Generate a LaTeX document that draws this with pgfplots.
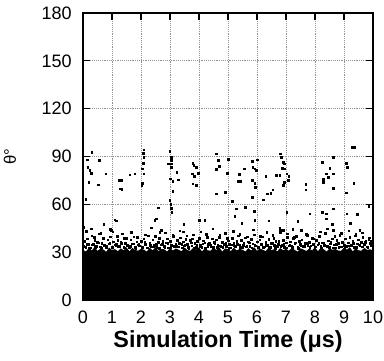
\documentclass[border=0pt]{standalone}
\usepackage{fontspec}
\setmainfont{Liberation Sans}
\usepackage{pgfplots}
\pgfplotsset{compat=1.18}
\begin{document}
\begin{tikzpicture}
\begin{axis}[
 scale only axis, width=217.5pt, height=215.25pt,
 xmin=0,xmax=10,ymin=0,ymax=180,
 xtick={0,1,2,3,4,5,6,7,8,9,10}, ytick={0,30,60,90,120,150,180},
 tick align=inside, major tick length=5.5pt,
 xtick pos=both, ytick pos=both,
 grid=major, grid style={densely dotted, gray!85, line width=0.5pt},
 axis line style={line width=0.8pt}, tick style={line width=0.8pt,black},
 /pgf/number format/assume math mode=true,
 ticklabel style={font=\fontsize{13.5}{14}\selectfont},
 xticklabel style={inner sep=0pt, yshift=-8pt},
 yticklabel style={inner sep=0pt, xshift=-8.25pt},
 xlabel={Simulation Time (μs)},
 xlabel style={font=\fontsize{17.5}{19}\selectfont\bfseries, inner sep=0pt, at={(axis description cs:0.5,-0.166)}, anchor=base},
 ylabel={θ°},
 ylabel style={font=\fontsize{12.5}{13}\selectfont, inner sep=0pt, at={(axis description cs:-0.252,0.5)}, anchor=center},
]
\coordinate (sw) at (rel axis cs:0,0);
\coordinate (ne) at (rel axis cs:1,1);
% solid dense band
\addplot[fill=black, draw=none] coordinates {
(0.0,31.5)(0.1,30.4)(0.2,32.6)(0.3,31.0)(0.4,33.1)(0.5,30.8)(0.6,32.2)(0.7,31.7)(0.8,30.2)(0.9,32.9)(1.0,31.3)
(1.1,31.9)(1.2,30.6)(1.3,32.4)(1.4,31.2)(1.5,33.0)(1.6,30.5)(1.7,32.7)(1.8,31.4)(1.9,30.9)(2.0,32.1)(2.1,31.6)
(2.2,30.3)(2.3,32.8)(2.4,31.1)(2.5,33.2)(2.6,30.7)(2.7,32.0)(2.8,31.8)(2.9,30.4)(3.0,32.5)(3.1,31.0)(3.2,32.3)
(3.3,31.5)(3.4,30.6)(3.5,32.9)(3.6,31.3)(3.7,30.8)(3.8,32.6)(3.9,31.7)(4.0,33.0)(4.1,30.5)(4.2,32.2)(4.3,31.2)
(4.4,30.9)(4.5,32.7)(4.6,31.4)(4.7,33.1)(4.8,30.3)(4.9,32.4)(5.0,31.8)(5.1,30.7)(5.2,32.8)(5.3,31.1)(5.4,32.0)
(5.5,31.6)(5.6,30.4)(5.7,32.5)(5.8,31.0)(5.9,33.2)(6.0,30.8)(6.1,32.3)(6.2,31.5)(6.3,30.6)(6.4,32.9)(6.5,31.3)
(6.6,31.9)(6.7,30.5)(6.8,32.6)(6.9,31.2)(7.0,32.1)(7.1,30.9)(7.2,32.8)(7.3,31.4)(7.4,30.3)(7.5,32.4)(7.6,31.7)
(7.7,30.7)(7.8,32.2)(7.9,31.1)(8.0,33.0)(8.1,30.6)(8.2,32.7)(8.3,31.8)(8.4,30.4)(8.5,32.3)(8.6,31.5)(8.7,32.0)
(8.8,31.0)(8.9,30.8)(9.0,32.9)(9.1,31.6)(9.2,33.1)(9.3,30.5)(9.4,32.4)(9.5,31.2)(9.6,30.9)(9.7,32.6)(9.8,31.4)
(9.9,31.8)(10.0,31.1)
} \closedcycle;
% dense dots layer 1
\addplot[only marks, mark=square*, mark size=0.6pt, black] coordinates {
(0.00,34.1)(0.05,36.8)(0.10,33.2)(0.15,38.5)(0.20,35.0)(0.25,32.7)(0.30,40.2)(0.35,34.9)(0.40,37.3)(0.45,33.8)(0.50,36.1)(0.55,41.5)(0.60,33.5)(0.65,35.7)(0.70,38.9)(0.75,34.4)(0.80,32.9)(0.85,37.8)(0.90,35.3)(0.95,39.6)(1.00,33.1)(1.05,36.5)(1.10,34.7)
(1.15,34.9)(1.20,37.3)(1.25,33.8)(1.30,36.1)(1.35,41.5)(1.40,33.5)(1.45,35.7)(1.50,38.9)(1.55,34.4)(1.60,32.9)(1.65,37.8)(1.70,35.3)(1.75,39.6)(1.80,33.1)(1.85,36.5)(1.90,34.7)(1.95,34.1)(2.00,36.8)(2.05,33.2)(2.10,38.5)(2.15,35.0)(2.20,32.7)(2.25,40.2)
(2.30,35.6)(2.35,33.4)(2.40,37.9)(2.45,34.2)(2.50,39.8)(2.55,33.0)(2.60,36.3)(2.65,42.4)(2.70,34.6)(2.75,37.0)(2.80,33.7)(2.85,35.8)(2.90,38.3)(2.95,32.8)(3.00,36.9)(3.05,34.5)(3.10,40.7)(3.15,33.6)(3.20,35.2)(3.25,37.6)(3.30,33.3)(3.35,39.1)(3.40,34.8)
(3.45,36.4)(3.50,33.9)(3.55,38.1)(3.60,35.1)(3.65,32.6)(3.70,37.4)(3.75,34.0)(3.80,40.9)(3.85,35.5)(3.90,33.2)(3.95,36.7)(4.00,38.8)(4.05,34.3)(4.10,32.9)(4.15,37.2)(4.20,35.9)(4.25,41.2)(4.30,33.8)(4.35,36.0)(4.40,34.6)(4.45,38.4)(4.50,33.1)(4.55,35.4)
(4.60,37.7)(4.65,34.2)(4.70,39.4)(4.75,33.5)(4.80,36.2)(4.85,35.0)(4.90,42.0)(4.95,33.7)(5.00,37.1)(5.05,34.9)(5.10,32.8)(5.15,38.6)(5.20,35.6)(5.25,33.3)(5.30,36.8)(5.35,40.3)(5.40,34.4)(5.45,37.5)(5.50,33.0)(5.55,35.8)(5.60,39.0)(5.65,34.1)(5.70,36.6)
(5.75,33.6)(5.80,38.2)(5.85,35.3)(5.90,41.0)(5.95,34.0)(6.00,36.5)(6.05,33.1)(6.10,37.8)(6.15,35.0)(6.20,39.7)(6.25,33.4)(6.30,36.1)(6.35,34.7)(6.40,38.0)(6.45,32.9)(6.50,35.5)(6.55,40.5)(6.60,34.3)(6.65,37.0)(6.70,33.8)(6.75,36.9)(6.80,42.6)(6.85,34.5)
(6.90,37.3)(6.95,33.2)(7.00,35.9)(7.05,39.3)(7.10,34.1)(7.15,36.4)(7.20,33.6)(7.25,38.7)(7.30,35.2)(7.35,40.1)(7.40,33.0)(7.45,36.7)(7.50,34.8)(7.55,37.9)(7.60,33.5)(7.65,35.6)(7.70,41.3)(7.75,34.2)(7.80,36.3)(7.85,33.9)(7.90,38.9)(7.95,35.1)(8.00,33.3)
(8.05,37.6)(8.10,34.6)(8.15,39.9)(8.20,33.7)(8.25,36.0)(8.30,35.4)(8.35,41.8)(8.40,34.0)(8.45,37.2)(8.50,33.1)(8.55,36.6)(8.60,38.5)(8.65,34.7)(8.70,32.8)(8.75,37.4)(8.80,35.7)(8.85,40.6)(8.90,33.4)(8.95,36.2)(9.00,34.3)(9.05,38.3)(9.10,33.6)(9.15,35.9)
(9.20,39.2)(9.25,34.4)(9.30,36.8)(9.35,33.2)(9.40,41.6)(9.45,35.3)(9.50,37.7)(9.55,33.9)(9.60,36.1)(9.65,39.5)(9.70,34.8)(9.75,37.0)(9.80,33.5)(9.85,38.0)(9.90,35.6)(9.95,36.9)
};
% dense dots layer 2
\addplot[only marks, mark=square*, mark size=0.6pt, black] coordinates {
(0.025,33.4)(0.125,35.1)(0.225,32.6)(0.325,34.7)(0.425,33.0)(0.525,35.9)(0.625,32.8)(0.725,34.2)(0.825,33.6)(0.925,36.0)
(1.025,32.9)(1.125,34.5)(1.225,33.3)(1.325,35.6)(1.425,32.7)(1.525,34.0)(1.625,33.8)(1.725,35.3)(1.825,32.5)(1.925,34.9)
(2.025,33.1)(2.125,36.2)(2.225,32.8)(2.325,34.4)(2.425,33.5)(2.525,35.0)(2.625,32.6)(2.725,34.8)(2.825,33.2)(2.925,35.7)
(3.025,32.9)(3.125,34.1)(3.225,33.7)(3.325,35.4)(3.425,32.7)(3.525,34.6)(3.625,33.0)(3.725,35.8)(3.825,32.8)(3.925,34.3)
(4.025,33.6)(4.125,35.2)(4.225,32.5)(4.325,34.9)(4.425,33.4)(4.525,36.1)(4.625,32.9)(4.725,34.0)(4.825,33.1)(4.925,35.5)
(5.025,32.6)(5.125,34.7)(5.225,33.9)(5.325,35.1)(5.425,32.8)(5.525,34.4)(5.625,33.3)(5.725,35.9)(5.825,32.7)(5.925,34.6)
(6.025,33.5)(6.125,35.3)(6.225,32.9)(6.325,34.2)(6.425,33.0)(6.525,35.7)(6.625,32.6)(6.725,34.8)(6.825,33.7)(6.925,35.0)
(7.025,32.8)(7.125,34.5)(7.225,33.2)(7.325,36.0)(7.425,32.5)(7.525,34.1)(7.625,33.8)(7.725,35.4)(7.825,32.9)(7.925,34.7)
(8.025,33.3)(8.125,35.6)(8.225,32.7)(8.325,34.3)(8.425,33.6)(8.525,35.2)(8.625,32.8)(8.725,34.9)(8.825,33.1)(8.925,35.8)
(9.025,32.6)(9.125,34.0)(9.225,33.9)(9.325,35.5)(9.425,32.9)(9.525,34.6)(9.625,33.4)(9.725,36.1)(9.825,32.7)(9.925,34.4)
};
% sparse dots 38-46
\addplot[only marks, mark=square*, mark size=0.6pt, black] coordinates {
(0.12,43.0)(0.38,39.5)(0.61,41.8)(0.93,44.2)(1.18,40.1)(1.42,38.6)(1.66,42.5)(1.88,39.2)(2.14,41.0)(2.36,45.3)(2.62,38.9)(2.84,42.1)(3.12,39.9)(3.33,43.4)(3.58,40.4)(3.77,38.4)(4.06,42.8)(4.29,39.3)(4.48,44.6)(4.71,40.8)(4.97,38.7)(5.18,43.1)(5.41,41.2)(5.66,39.6)(5.87,44.0)(6.12,40.0)(6.34,42.3)(6.58,38.8)(6.79,45.0)(7.05,41.5)(7.28,39.4)(7.52,43.6)(7.74,40.6)(7.96,38.5)(8.19,42.7)(8.43,44.8)(8.68,39.8)(8.91,41.9)(9.17,43.3)(9.39,40.3)(9.63,42.2)(9.87,39.0)
};
% high outliers
\addplot[only marks, mark=square*, mark size=0.6pt, black] coordinates {
(0.14,87.9)(0.17,83.3)(0.23,81.3)(0.29,79.6)(0.2,74.0)(0.3,92.7)(0.57,87.5)(0.53,72.3)(0.78,79.2)(0.09,63.0)(0.03,45.8)(0.29,44.8)(0.72,47.5)
(1.26,75.0)(1.32,75.0)(1.29,69.8)(1.34,69.4)(1.61,78.5)(1.78,79.2)(1.15,49.6)(1.09,50.4)(0.98,43.8)(1.03,42.7)
(2.1,94.2)(2.07,92.0)(2.09,89.6)(2.07,85.8)(2.05,82.3)(2.09,79.2)(2.05,73.3)(2.02,71.9)(2.59,57.9)(2.47,50.0)(2.53,51.0)(2.7,43.8)
(2.99,93.3)(3.05,89.6)(3.05,87.5)(3.05,85.4)(3.05,83.3)(2.93,85.4)(3.24,80.2)(3.01,76.0)(3.1,74.6)(3.28,75.4)(3.1,68.3)(2.99,62.5)(3.02,60.0)(3.05,57.7)(3.06,55.0)(3.48,47.5)(3.45,42.7)
(3.79,85.8)(3.82,84.4)(3.77,79.2)(3.84,77.5)(3.79,72.9)(3.91,83.3)(3.98,79.6)(3.91,71.9)(4.0,50.0)(4.2,50.0)
(4.6,91.7)(4.66,87.5)(4.6,82.1)(4.69,83.8)(4.6,66.7)(5.0,88.1)(4.97,79.6)(4.91,67.7)(5.14,61.9)(5.29,57.3)(5.34,74.6)(5.43,74.6)(5.38,78.8)(5.57,82.3)(5.6,58.3)(5.47,48.3)(5.23,52.5)
(5.83,87.1)(6.0,87.9)(5.86,83.3)(5.92,82.3)(5.98,81.3)(5.84,75.0)(5.92,73.3)(5.95,70.8)(5.84,64.6)(5.91,55.8)(5.92,50.0)(6.21,62.9)(6.3,77.5)(6.36,66.7)(6.47,67.1)(6.55,69.2)(6.4,49.6)(6.67,78.1)
(6.8,91.7)(6.84,89.6)(6.9,86.5)(6.95,85.4)(6.87,82.7)(6.95,82.3)(6.78,78.1)(7.03,79.2)(7.1,77.5)(7.07,75.0)(6.95,74.0)(6.9,71.9)(7.03,55.2)(6.9,43.8)(6.8,43.8)
(7.68,72.5)(7.68,69.2)(7.82,54.2)(7.24,44.2)(7.41,49.4)
(8.25,86.5)(8.28,75.6)(8.28,74.0)(8.39,79.2)(8.45,77.0)(8.51,82.7)(8.62,89.6)(8.62,70.2)(8.64,79.2)(8.25,55.2)(8.39,54.2)(8.39,51.0)(8.62,57.3)(8.6,47.5)(8.62,43.8)
(9.08,85.8)(9.11,83.3)(9.08,67.3)(9.1,54.2)(9.22,48.3)(9.29,95.8)(9.36,95.8)(9.34,73.3)(9.45,53.8)(9.86,58.8)(9.54,43.8)
};
\end{axis}
\pgfresetboundingbox
\path[use as bounding box] ([xshift=-62.25pt,yshift=-45pt]sw) rectangle ([xshift=8.25pt,yshift=9.75pt]ne);
\end{tikzpicture}
\end{document}
